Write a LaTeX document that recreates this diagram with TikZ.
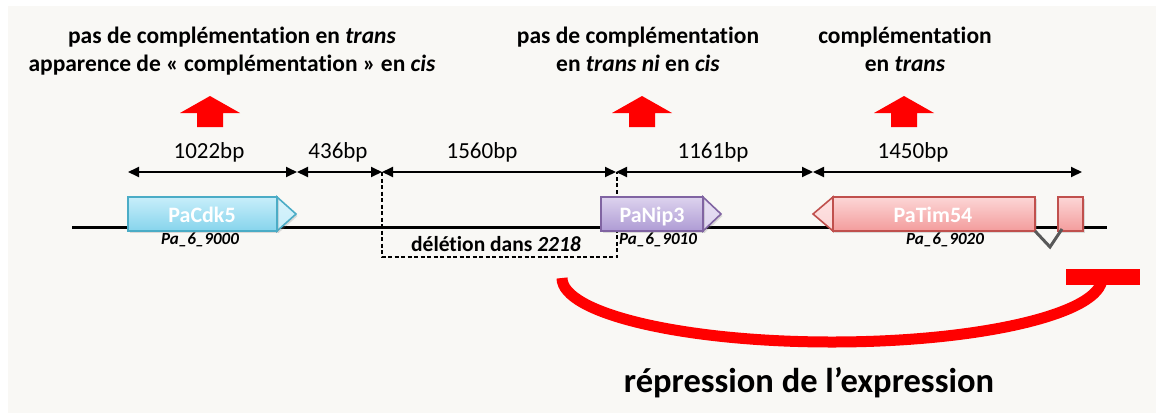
\documentclass[tikz,border=0pt]{standalone}
\usepackage{fontspec}
\setmainfont{Carlito}[Ligatures=NoCommon]
\usetikzlibrary{arrows.meta,shadows}
\definecolor{bg}{HTML}{F9F8F5}
\definecolor{cdkTop}{HTML}{C8EEFA}
\definecolor{cdkBot}{HTML}{86D4EC}
\definecolor{cdkLine}{HTML}{4BACC6}
\definecolor{nipTop}{HTML}{DDD3EE}
\definecolor{nipBot}{HTML}{AE9BD4}
\definecolor{nipLine}{HTML}{8064A2}
\definecolor{timTop}{HTML}{FCD6D6}
\definecolor{timBot}{HTML}{F39C9C}
\definecolor{timLine}{HTML}{C0504D}
\definecolor{intron}{HTML}{595959}
\newcommand\redup[1]{%
  \fill[red] (#1,96) -- (#1+30,113) -- (#1+13,113) -- (#1+13,127)
    -- (#1-13,127) -- (#1-13,113) -- (#1-30,113) -- cycle;}
\begin{document}
\begin{tikzpicture}[x=1pt,y=-1pt,
  title/.style={anchor=base,inner sep=0pt,font=\fontsize{23.5}{28}\selectfont\bfseries},
  dimlabel/.style={anchor=base,inner sep=0pt,font=\fontsize{23}{26}\selectfont},
  genelabel/.style={anchor=base,inner sep=0pt,text=white,font=\fontsize{22}{26}\selectfont\bfseries},
  locus/.style={anchor=base,inner sep=0pt,font=\fontsize{17}{20}\selectfont\bfseries\itshape},
  dim/.style={line width=1.8pt,{Triangle[length=11pt,width=10pt]}-{Triangle[length=11pt,width=10pt]}},
  genebox/.style={line width=1.6pt,drop shadow={shadow xshift=1.5pt,shadow yshift=-2pt,opacity=0.25}},
]
\useasboundingbox (0,0) rectangle (1156,413);
\fill[bg] (8,6) rectangle (1156,413);

% titles
\node[title] (t1a) at (232,43) {pas de complémentation en \textit{trans}};
\node[title] (t1b) at (232,71) {apparence de « complémentation » en \textit{cis}};
\node[title] (t2a) at (638,43) {pas de complémentation};
\node[title] (t2b) at (638,71) {en \textit{trans ni} en \textit{cis}};
\node[title] (t3a) at (905,43) {complémentation};
\node[title] (t3b) at (905,71) {en \textit{trans}};

% red up arrows
\redup{210}
\redup{642}
\redup{904}

% dimension points
\coordinate (d0) at (128,172);
\coordinate (d1) at (297,172);
\coordinate (d2) at (382,172);
\coordinate (d3) at (616,172);
\coordinate (d4) at (813,172);
\coordinate (d5) at (1082,172);
\draw[dim] (d0) -- (d1);
\draw[dim] (d1) -- (d2);
\draw[dim] (d2) -- (d3);
\draw[dim] (d3) -- (d4);
\draw[dim] (d4) -- (d5);
\node[dimlabel] (l1) at (209,158) {1022bp};
\node[dimlabel] (l2) at (338,158) {436bp};
\node[dimlabel] (l3) at (482,158) {1560bp};
\node[dimlabel] (l4) at (713,158) {1161bp};
\node[dimlabel] (l5) at (913,158) {1450bp};

% main line
\coordinate (m0) at (72,227);
\coordinate (m1) at (1107,227);
\draw[line width=3pt,black] (m0) -- (m1);

% deletion box
\coordinate (x0) at (382,257);
\coordinate (x1) at (617,257);
\coordinate (x2) at (617,172);
\draw[line width=1.2pt,dash pattern=on 4pt off 2.5pt] (d2) -- (x0) -- (x1) -- (x2);
\node[anchor=base,inner sep=0pt,font=\fontsize{21.5}{24}\selectfont\bfseries] (del) at (496,251) {délétion dans \textit{2218}};

% PaCdk5
\draw[genebox,draw=cdkLine,top color=cdkTop!70!white,bottom color=cdkTop] (277,197) -- (296,214) -- (277,231) -- cycle;
\draw[genebox,draw=cdkLine,top color=cdkTop,bottom color=cdkBot] (128,197) rectangle (277,231);
\node[genelabel] (g1) at (202,222) {PaCdk5};
\node[locus] (p1) at (200,244) {Pa\_6\_9000};

% PaNip3
\draw[genebox,draw=nipLine,top color=nipTop!70!white,bottom color=nipTop] (703,197) -- (721,214) -- (703,231) -- cycle;
\draw[genebox,draw=nipLine,top color=nipTop,bottom color=nipBot] (601,197) rectangle (703,231);
\node[genelabel] (g2) at (652,222) {PaNip3};
\node[locus] (p2) at (658,244) {Pa\_6\_9010};

% PaTim54
\draw[genebox,draw=timLine,top color=timTop!70!white,bottom color=timTop] (833,197) -- (813,214) -- (833,231) -- cycle;
\draw[genebox,draw=timLine,top color=timTop,bottom color=timBot] (833,197) rectangle (1035,231);
\draw[genebox,draw=timLine,top color=timTop,bottom color=timBot] (1058,197) rectangle (1083,231);
\node[genelabel] (g3) at (933,222) {PaTim54};
\node[locus] (p3) at (945,244) {Pa\_6\_9020};
% intron
\coordinate (i0) at (1035,231);
\coordinate (i1) at (1050,247);
\coordinate (i2) at (1062,229);
\draw[intron,line width=3pt] (i0) -- (i1) -- (i2);

% repression
\coordinate (r0) at (562,278);
\coordinate (r1) at (1102,278);
\draw[red,line width=11pt] (r0) arc[start angle=180,end angle=360,x radius=270pt,y radius=64pt];
\fill[red] (1066,269) rectangle (1140,285);
\node[anchor=base,inner sep=0pt,font=\fontsize{34.5}{40}\selectfont\bfseries] (rep) at (809,392) {répression de l’expression};
\end{tikzpicture}
\end{document}
